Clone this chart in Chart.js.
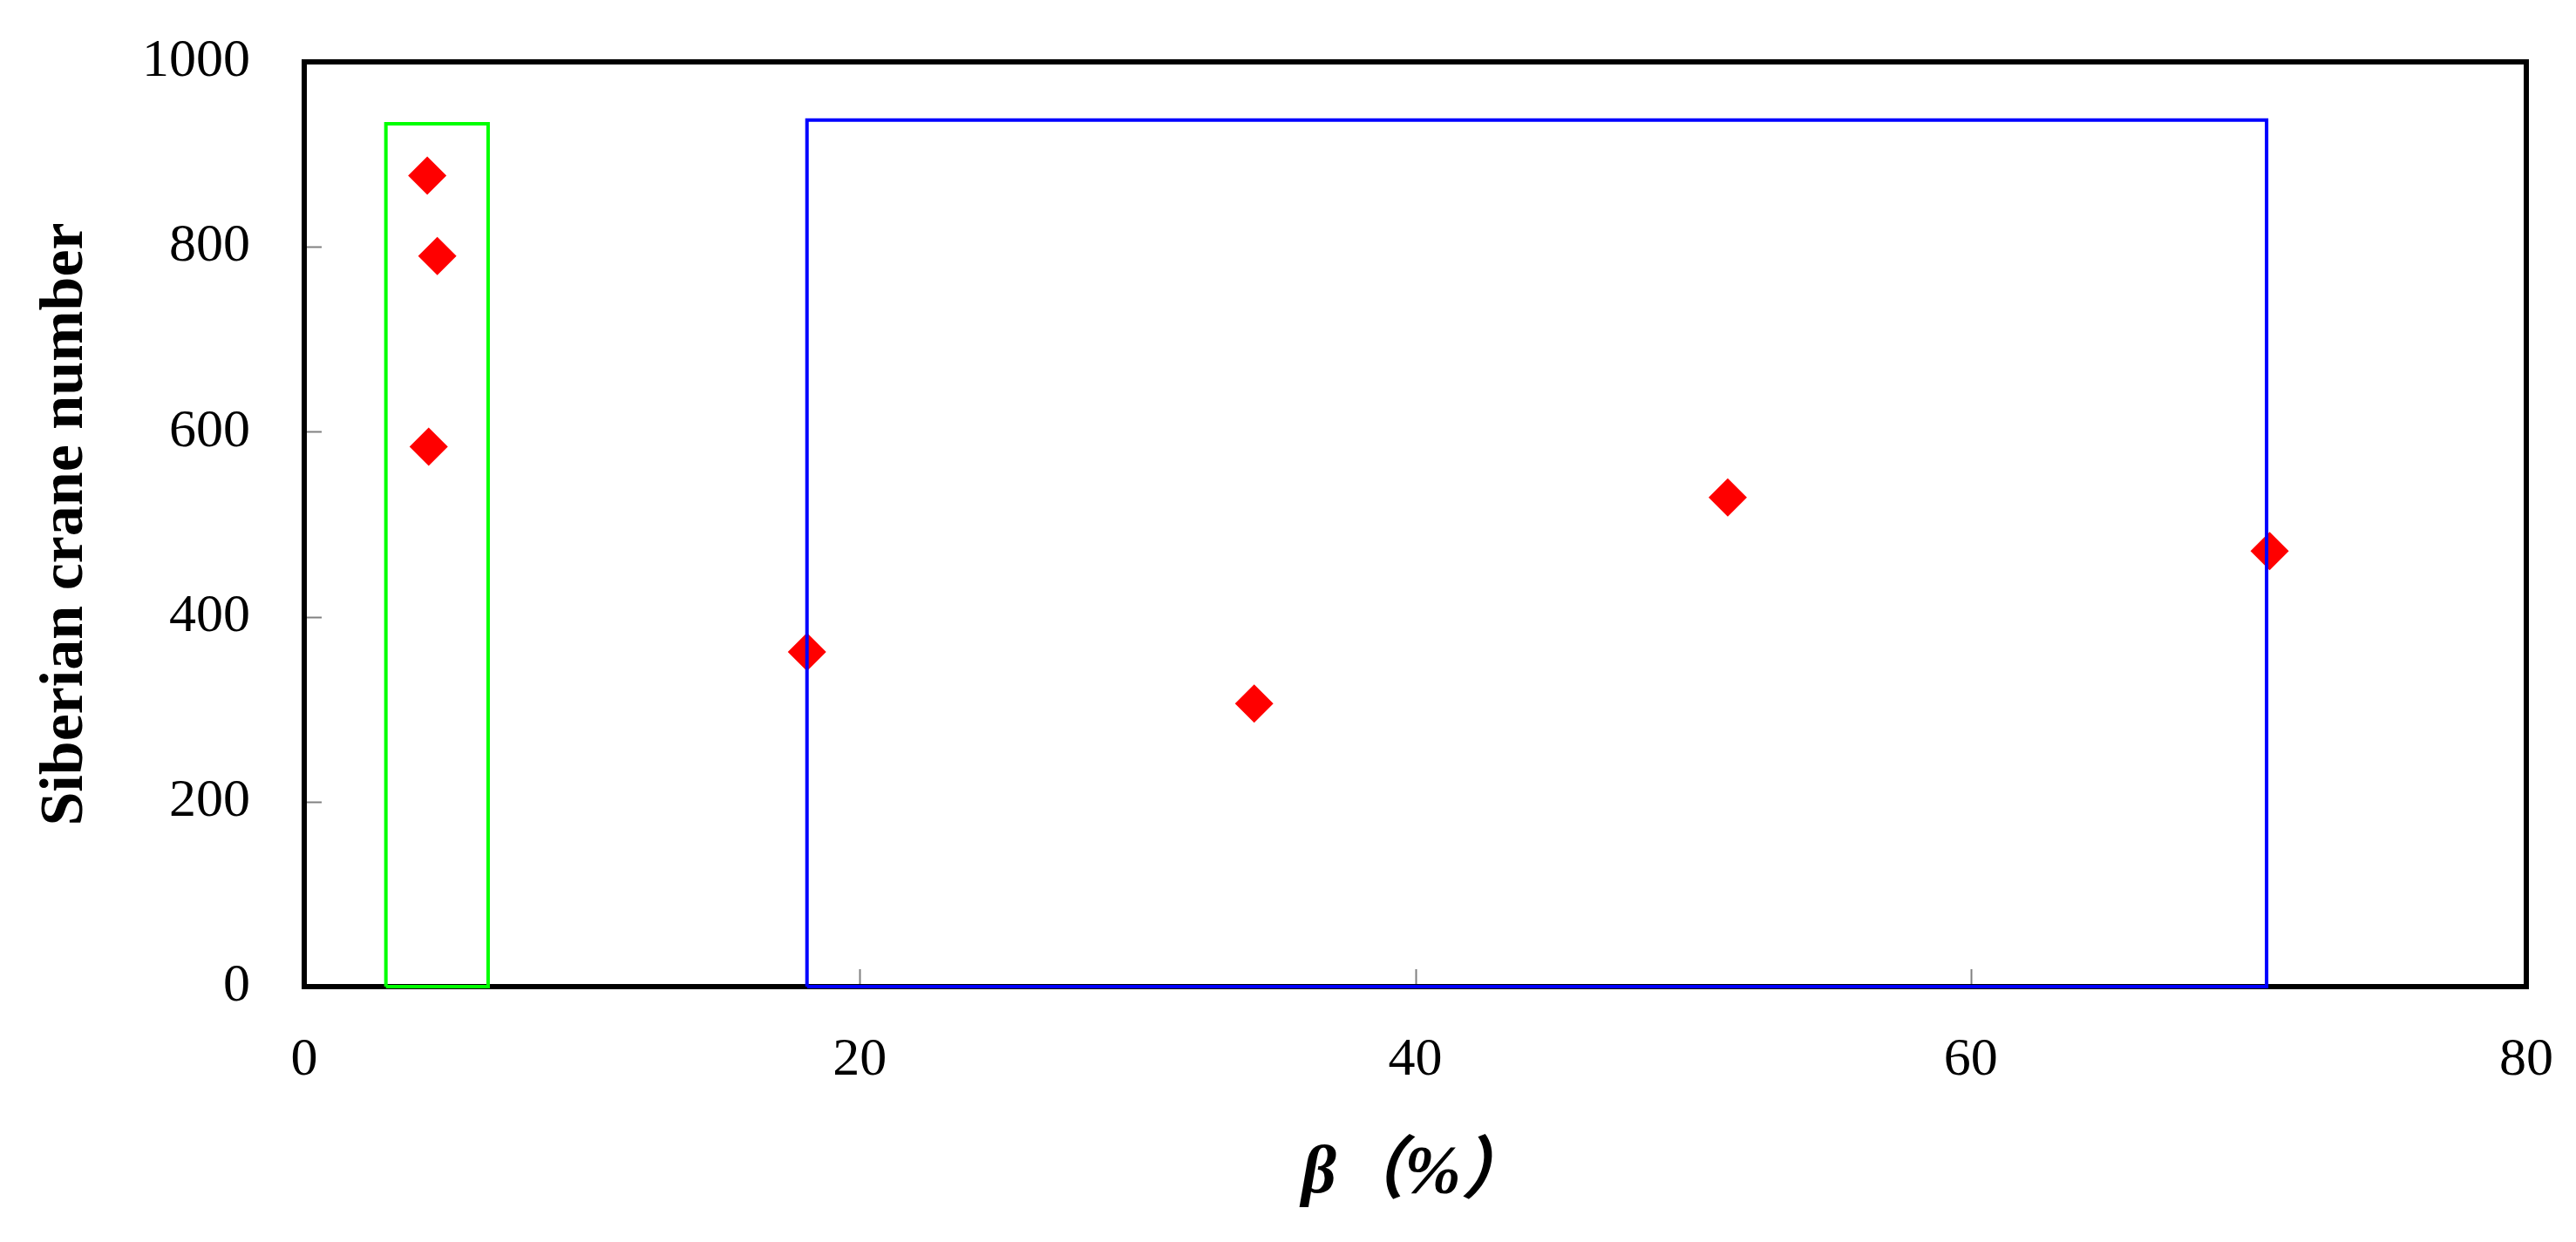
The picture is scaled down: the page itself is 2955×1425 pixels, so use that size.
<!DOCTYPE html>
<html>
<head>
<meta charset="utf-8">
<title>Siberian crane number vs beta</title>
<script src="https://cdn.jsdelivr.net/npm/chart.js@4.4.1/dist/chart.umd.min.js"></script>
<style>
  html, body { margin: 0; padding: 0; background: #fff; }
  #wrap { width: 2955px; height: 1425px; position: relative; }
</style>
</head>
<body>
<div id="wrap"><canvas id="craneChart"></canvas></div>
<script>
// === Data ===
const betaValues  = [4.43, 4.79, 4.48, 18.1, 34.2, 51.25, 70.76];
const craneValues = [877, 790, 584, 362, 306, 529, 471];

// green box around the low-beta group
const greenBoxX = [2.94, 2.94, 6.62, 6.62, 2.94];
const greenBoxY = [0, 933, 933, 0, 0];

// blue box around the high-beta group
const blueBoxX = [18.1, 18.1, 70.65, 70.65, 18.1];
const blueBoxY = [0, 937, 937, 0, 0];

const xTicks = [0, 20, 40, 60, 80];
const yTicks = [0, 200, 400, 600, 800, 1000];

const toPoints = (xs, ys) => xs.map((x, i) => ({ x: x, y: ys[i] }));

const serif = "'Liberation Serif', 'Times New Roman', 'Noto Sans CJK SC', serif";

// === Frame + inward tick marks ===
const framePlugin = {
  id: "frame",
  beforeDatasetsDraw(chart) {
    const { ctx, chartArea: a, scales } = chart;
    ctx.save();
    ctx.strokeStyle = "#808080";
    ctx.lineWidth = 2;
    const len = 20;
    xTicks.forEach(v => {
      if (v === xTicks[0] || v === xTicks[xTicks.length - 1]) return;
      const px = Math.round(scales.x.getPixelForValue(v)) + 0.5;
      ctx.beginPath();
      ctx.moveTo(px, a.bottom);
      ctx.lineTo(px, a.bottom - len);
      ctx.stroke();
    });
    yTicks.forEach(v => {
      if (v === yTicks[0] || v === yTicks[yTicks.length - 1]) return;
      const py = Math.round(scales.y.getPixelForValue(v)) + 0.5;
      ctx.beginPath();
      ctx.moveTo(a.left, py);
      ctx.lineTo(a.left + len, py);
      ctx.stroke();
    });
    ctx.strokeStyle = "#000";
    ctx.lineWidth = 6;
    ctx.strokeRect(a.left, a.top, a.right - a.left, a.bottom - a.top);
    ctx.restore();
  }
};

// fixed axis sizes so the plot area lands where the original's does
function fitX(s) {
  s.height = 293;
  s.paddingLeft = 0;
  s.paddingRight = 0;
}
function fitY(s) {
  s.width = 349;
  s.paddingTop = 0;
  s.paddingBottom = 0;
}

// === Chart ===
const ctx = document.getElementById("craneChart").getContext("2d");
new Chart(ctx, {
  type: "scatter",
  data: {
    datasets: [
      {
        label: "Blue group",
        data: toPoints(blueBoxX, blueBoxY),
        showLine: true,
        borderColor: "#0000ff",
        borderWidth: 4,
        pointRadius: 0,
        tension: 0,
        clip: false,
        order: 0
      },
      {
        label: "Green group",
        data: toPoints(greenBoxX, greenBoxY),
        showLine: true,
        borderColor: "#00ff00",
        borderWidth: 4,
        pointRadius: 0,
        tension: 0,
        clip: false,
        order: 1
      },
      {
        label: "Siberian crane",
        data: toPoints(betaValues, craneValues),
        pointStyle: "rectRot",
        pointRadius: 22,
        pointHoverRadius: 22,
        backgroundColor: "#ff0000",
        borderWidth: 0,
        clip: false,
        order: 2
      }
    ]
  },
  options: {
    responsive: true,
    maintainAspectRatio: false,
    animation: false,
    layout: { autoPadding: false, padding: { top: 71, right: 57, left: 0, bottom: 0 } },
    plugins: {
      legend: { display: false },
      tooltip: { enabled: false }
    },
    scales: {
      x: {
        type: "linear",
        min: 0,
        max: 80,
        afterBuildTicks: s => { s.ticks = xTicks.map(v => ({ value: v })); },
        afterFit: fitX,
        grid: { display: false, drawTicks: false },
        border: { display: false },
        ticks: {
          color: "#000",
          padding: 48,
          maxRotation: 0,
          callback: v => String(v),
          font: { family: serif, size: 62 }
        },
        title: {
          display: true,
          text: "β（%）",
          color: "#000",
          padding: { top: 0, bottom: 30 },
          font: { family: serif, size: 78, weight: "bold", style: "italic" }
        }
      },
      y: {
        type: "linear",
        min: 0,
        max: 1000,
        afterBuildTicks: s => { s.ticks = yTicks.map(v => ({ value: v })); },
        afterFit: fitY,
        grid: { display: false, drawTicks: false },
        border: { display: false },
        ticks: {
          color: "#000",
          padding: 62,
          callback: v => String(v),
          font: { family: serif, size: 62 }
        },
        title: {
          display: true,
          text: "Siberian crane number",
          color: "#000",
          padding: { top: 34, bottom: 0 },
          font: { family: serif, size: 70, weight: "bold" }
        }
      }
    }
  },
  plugins: [framePlugin]
});
</script>
</body>
</html>
